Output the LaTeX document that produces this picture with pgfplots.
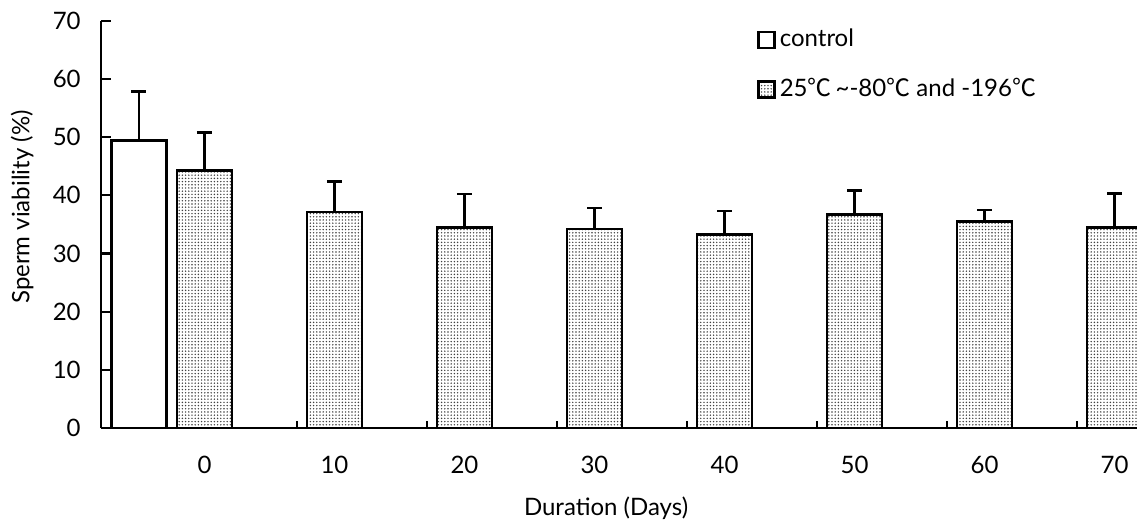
\documentclass[border=0pt]{standalone}
\usepackage{fontspec}
\setmainfont{Lato}
\newfontfamily\cjk{Noto Sans CJK SC}
\usepackage{pgfplots}
\pgfplotsset{compat=1.18}
\usetikzlibrary{patterns.meta}
\newcommand{\degC}{{\cjk ℃}}
\begin{document}
\fontsize{12pt}{14pt}\selectfont
\begin{tikzpicture}
\begin{axis}[
  name=ax, at={(0,0)}, anchor=south west,
  scale only axis, width=518pt, height=203.65pt,
  xmin=-0.796, xmax=7.173, ymin=0, ymax=70,
  axis x line*=bottom, axis y line*=left,
  axis line style={-, line width=1.3pt},
  ytick={0,10,...,70},
  xtick={0,...,7}, xticklabels={0,10,20,30,40,50,60,70},
  minor xtick={-0.288,0.712,1.712,2.712,3.712,4.712,5.712,6.712},
  tick align=inside,
  major tick length=5pt, minor tick length=3.5pt,
  every major x tick/.style={draw=none},
  every minor x tick/.style={line width=1.1pt, black, yshift=3.5pt},
  every major y tick/.style={line width=1.1pt, black},
  /pgf/number format/assume math mode=true,
  tick label style={font=\fontsize{12pt}{14pt}\selectfont},
  xticklabel style={yshift=-5pt},
  yticklabel style={xshift=-6pt},
  xlabel={Duration (Days)},
  ylabel={Sperm viability (\%)},
  label style={font=\fontsize{12pt}{14pt}\selectfont},
  xlabel style={at={(axis description cs:0.4875,0)}, anchor=center, yshift=-40pt},
  ylabel style={at={(axis description cs:-0.0762,0.5426)}, anchor=center},
  ybar, bar width=0.423, bar shift=0pt,
  legend style={at={(axis description cs:0.633,0.99)}, anchor=north west, draw=none, fill=none,
    row sep=10pt, inner sep=0pt, font=\fontsize{12pt}{14pt}\selectfont,
    /tikz/every even column/.append style={column sep=0pt}},
  legend cell align=left,
  legend image code/.code={\draw[#1, line width=1.3pt] (0pt,-4pt) rectangle (8pt,4pt);},
  clip=true,
]
\addplot[draw=black, line width=1.35pt, fill=white,
  error bars/.cd, y dir=plus, y explicit,
  error bar style={line width=1.3pt, black},
  error mark options={rotate=90, mark size=3.75pt, line width=1.3pt, black}]
  coordinates {(-0.504,49.4) +- (0,8.4)};
\addlegendentry{control}
\addplot[draw=black, line width=1.35pt, pattern={Dots[distance=1.6pt, radius=0.4pt]}, pattern color=black!75,
  error bars/.cd, y dir=plus, y explicit,
  error bar style={line width=1.3pt, black},
  error mark options={rotate=90, mark size=3.75pt, line width=1.3pt, black}]
  coordinates {
  (0,44.2) +- (0,6.6)
  (1,37.1) +- (0,5.3)
  (2,34.4) +- (0,5.8)
  (3,34.2) +- (0,3.6)
  (4,33.3) +- (0,4.0)
  (5,36.7) +- (0,4.1)
  (6,35.5) +- (0,2.0)
  (7,34.4) +- (0,5.9)
  };
\addlegendentry{25\degC\,\textasciitilde-80\degC\ and -196\degC}
\end{axis}
\pgfresetboundingbox
\path[use as bounding box] (-50.5pt,-48pt) rectangle (518pt,214pt);
\end{tikzpicture}
\end{document}
